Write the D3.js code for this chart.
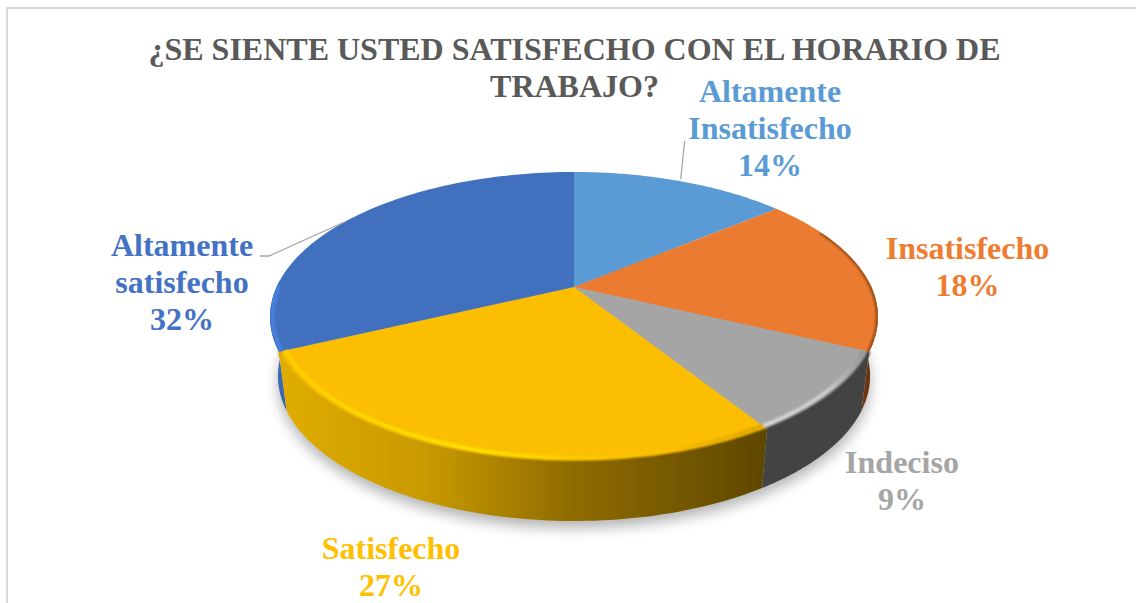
<!DOCTYPE html>
<html><head><meta charset="utf-8">
<script src="https://cdnjs.cloudflare.com/ajax/libs/d3/7.8.5/d3.min.js"></script>
<style>html,body{margin:0;padding:0;background:#fff;overflow:hidden}svg{display:block}
text{font-family:"Liberation Serif",serif;font-weight:700;text-anchor:middle}</style>
</head><body><div id="c"></div>
<script>
const categories=["Altamente Insatisfecho","Insatisfecho","Indeciso","Satisfecho","Altamente satisfecho"];
const values=[14,18,9,27,32];
const colors=["#5B9BD5","#EA7B30","#A5A5A5","#FBBE00","#4170BF"];
const labelColors=["#5B9BD5","#ED7D31","#A5A5A5","#FFC000","#4472C4"];
const labelLines=[["Altamente","Insatisfecho"],["Insatisfecho"],["Indeciso"],["Satisfecho"],["Altamente","satisfecho"]];
const labelAnchors=[[770,102],[967.5,259],[902,473],[391,559],[182,256]];
const titleLines=["¿SE SIENTE USTED SATISFECHO CON EL HORARIO DE","TRABAJO?"];

const W=1136,H=603,cx=574,cy=287,k=0.2069,a=297.4,b=138.8,depth=59,shrink=0.974;
const svg=d3.select("#c").append("svg").attr("width",W).attr("height",H);
const defs=svg.append("defs");
const blur=(id,s)=>defs.append("filter").attr("id",id).attr("filterUnits","userSpaceOnUse").attr("x",0).attr("y",0).attr("width",W).attr("height",H)
  .append("feGaussianBlur").attr("stdDeviation",s);
blur("sh",7);blur("b1",1.2);
const grad=(id,stops,x1,x2)=>{const g=defs.append("linearGradient").attr("id",id).attr("gradientUnits","userSpaceOnUse")
  .attr("x1",x1).attr("x2",x2).attr("y1",0).attr("y2",0);
  stops.forEach(s=>g.append("stop").attr("offset",s[0]).attr("stop-color",s[1]));};
grad("sideY",[[0,"#E0AC00"],[.3,"#C99A00"],[.6,"#8F6C00"],[1,"#5F4700"]],280,765);
grad("sideB",[[0,"#4A80DC"],[.3,"#3F6DBB"],[1,"#36609F"]],270,290);
grad("sideO",[[0,"#7A3C12"],[1,"#55290C"]],860,880);
grad("rimY",[[0,"#FFD000"],[.4,"#FFE600"],[.65,"#FCC800"],[.8,"#FBBE00"],[1,"#D8A000"]],280,765);
grad("rimG",[[0,"#D8D8D8"],[.6,"#CFCFCF"],[1,"#888888"]],765,870);

// perspective projection of the pie's unit circle
const proj=(ang,r=1)=>{const u=r*Math.sin(ang),v=r*Math.cos(ang),d=1+k*v;return [cx+a*u/d,cy-b*v/d];};
const low=p=>[cx+(p[0]-cx)*shrink,p[1]+depth];
const arcPts=(s,e,r=1)=>d3.range(0,81).map(i=>proj(s+(e-s)*i/80,r));
const line=d3.line();

const pie=d3.pie().sort(null).value(d=>d)(values);

// frame
svg.append("path").attr("d",line([[7,H],[7,8],[W,8]])).attr("fill","none").attr("stroke","#D9D9D9").attr("stroke-width",2);

// shadow
const full=arcPts(0,2*Math.PI).map(low);
svg.append("path").attr("d",line(full)+"Z").attr("transform","translate(0,7)").attr("fill","#000").attr("opacity",.3).attr("filter","url(#sh)");

// sides: only the part of each slice facing the viewer
const sideFill=[null,"url(#sideO)","#434343","url(#sideY)","url(#sideB)"];
const nearFrom=Math.PI/2-0.05,nearTo=3*Math.PI/2+0.05;
[4,1,3,2].forEach(i=>{const p=pie[i],s=Math.max(p.startAngle,nearFrom),e=Math.min(p.endAngle,nearTo),t=arcPts(s,e);
  svg.append("path").attr("d",line(t.concat(t.map(low).reverse()))+"Z").attr("fill",sideFill[i]);});

// top faces
pie.forEach((p,i)=>{svg.append("path").attr("d",line([[cx,cy]].concat(arcPts(p.startAngle,p.endAngle)))+"Z").attr("fill",colors[i]);});

// soft edge between yellow/grey top faces and their sides
const softEdge=svg.append("g");
[2,3].forEach(i=>{const p=pie[i];
  softEdge.append("path").attr("d",line(arcPts(p.startAngle,p.endAngle,1))).attr("fill","none").attr("stroke",sideFill[i]).attr("stroke-width",3).attr("filter","url(#b1)");});

// bevels along the rim
const clip=defs.append("clipPath").attr("id","topClip");
clip.append("path").attr("d",line(arcPts(0,2*Math.PI))+"Z");
const rim=svg.append("g").attr("clip-path","url(#topClip)");
const bevel=[null,"#8A4518","url(#rimG)","url(#rimY)","#4A80DC"];
const bevelR=[0,0.997,0.982,0.98,0.992];
const bevelW=[0,2.5,3.5,3.5,4];
pie.forEach((p,i)=>{if(!bevel[i])return;
  const s=i===1?p.startAngle+0.25:p.startAngle,e=i===4?p.startAngle+0.45:p.endAngle;
  rim.append("path").attr("d",line(arcPts(s,e,bevelR[i]))).attr("fill","none").attr("stroke",bevel[i]).attr("stroke-width",bevelW[i]).attr("filter","url(#b1)");});

// leader lines
const leaderA=proj(pie[0].startAngle+0.5*(pie[0].endAngle-pie[0].startAngle)),leaderB=proj(pie[4].startAngle+0.49*(pie[4].endAngle-pie[4].startAngle));
svg.append("path").attr("d",line([[leaderA[0],leaderA[1]-2],[leaderA[0]+4,141]])).attr("fill","none").attr("stroke","#A6A6A6").attr("stroke-width",1.3);
svg.append("path").attr("d",line([[leaderB[0],leaderB[1]],[269,256],[260,256]])).attr("fill","none").attr("stroke","#A6A6A6").attr("stroke-width",1.3);

// title
svg.selectAll("text.t").data(titleLines).join("text").attr("class","t").attr("x",574.5).attr("y",(d,i)=>60+i*37)
  .attr("fill","#595959").attr("font-size",32).text(d=>d);

// labels
categories.forEach((c,i)=>{const [x,y]=labelAnchors[i];
  labelLines[i].concat([values[i]+"%"]).forEach((t,j)=>{
    svg.append("text").attr("x",x).attr("y",y+j*37).attr("fill",labelColors[i]).attr("font-size",32).text(t);});});
</script></body></html>
